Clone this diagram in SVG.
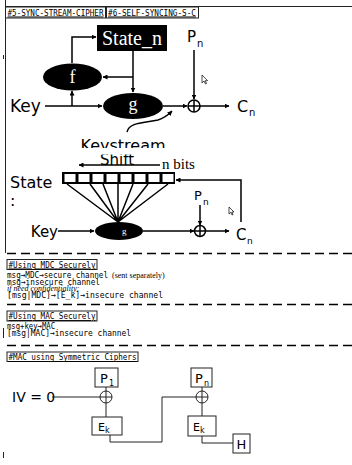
<svg xmlns="http://www.w3.org/2000/svg" width="352" height="465" viewBox="0 0 352 465">
<defs>
<marker id="ah" viewBox="0 0 10 10" refX="9" refY="5" markerWidth="5" markerHeight="5" orient="auto" markerUnits="userSpaceOnUse"><path d="M0,0 L10,5 L0,10 Z" fill="#000"/></marker>
<clipPath id="ksclip"><rect x="0" y="130" width="352" height="18"/></clipPath>
<clipPath id="shclip"><rect x="0" y="154.5" width="352" height="12"/></clipPath>
<style>
.ln{stroke:#000;stroke-width:1.5;fill:none}
.la{stroke:#000;stroke-width:1.5;fill:none;marker-end:url(#ah)}
.thin{stroke:#222;stroke-width:1;fill:none}
.box{fill:#fff;stroke:#222;stroke-width:1}
.dash{stroke:#000;stroke-width:1.5;stroke-dasharray:9 5;fill:none}
.sans{font-family:"DejaVu Sans",sans-serif;fill:#000}
.serif{font-family:"Liberation Serif",serif}
.mono{font-family:"DejaVu Sans Mono",monospace;font-size:9px;fill:#000}
.ul{text-decoration:underline}
.small{font-family:"Liberation Serif",serif;font-size:8px;fill:#000}
.blk{fill:#000}
</style>
</defs>
<rect width="352" height="465" fill="#fff"/>
<path class="thin" d="M5,6.5 H352 M5.5,0 V253"/>
<path class="thin" d="M3.5,55 V59 M3.5,328 V338 M3.5,452 V458"/>
<g id="tab5"><rect class="box" x="5.5" y="7" width="100" height="11"/><text class="mono ul" x="7.5" y="15.5" textLength="96" lengthAdjust="spacingAndGlyphs">#5-SYNC-STREAM-CIPHER</text></g>
<g id="tab6"><rect class="box" x="106.5" y="7" width="92" height="11"/><text class="mono ul" x="108" y="15.5" textLength="88" lengthAdjust="spacingAndGlyphs">#6-SELF-SYNCING-S-C</text></g>

<g id="state_n"><rect class="blk" x="97" y="25" width="70" height="26"/><text class="serif" x="132" y="44.5" font-size="20" fill="#fff" text-anchor="middle">State_n</text></g>
<g id="f"><ellipse class="blk" cx="72.5" cy="77" rx="29.5" ry="13.5"/><text class="serif" x="72.5" y="83" font-size="18" fill="#fff" text-anchor="middle">f</text></g>
<g id="g"><ellipse class="blk" cx="133" cy="106" rx="30" ry="13"/><text class="serif" x="133" y="110" font-size="18" fill="#fff" text-anchor="middle">g</text></g>
<g id="key1"><text class="sans" x="10" y="112" font-size="17">Key</text></g>
<g id="xor1"><circle class="ln" cx="194" cy="106" r="6"/><path class="ln" d="M188,106 H200 M194,100 V112"/></g>
<g id="pn1"><text class="sans" x="187" y="42" font-size="15">P</text><text class="sans" x="197" y="47" font-size="10">n</text></g>
<g id="cn1"><text class="sans" x="237" y="112" font-size="16">C</text><text class="sans" x="249" y="116" font-size="10">n</text></g>
<g id="keystream"><text class="sans" x="123" y="151" font-size="16" text-anchor="middle" clip-path="url(#ksclip)">Keystream</text></g>

<g id="state2"><text class="sans" x="10" y="188" font-size="16">State</text><text class="sans" x="10" y="206" font-size="16">:</text></g>
<g id="register"><rect class="blk" x="62" y="172" width="113" height="12"/>
<rect x="64.5" y="174" width="11" height="8" fill="#fff"/><rect x="78.5" y="174" width="11" height="8" fill="#fff"/><rect x="92.5" y="174" width="11" height="8" fill="#fff"/><rect x="106.5" y="174" width="11" height="8" fill="#fff"/><rect x="120.5" y="174" width="11" height="8" fill="#fff"/><rect x="134.5" y="174" width="11" height="8" fill="#fff"/><rect x="148.5" y="174" width="11" height="8" fill="#fff"/><rect x="162.5" y="174" width="11" height="8" fill="#fff"/></g>
<g id="shift"><text class="sans" x="117" y="165" font-size="15" text-anchor="middle" clip-path="url(#shclip)">Shift</text><text class="serif" x="162" y="169" font-size="15">n bits</text></g>
<g id="g2"><ellipse class="blk" cx="119" cy="231" rx="24" ry="9"/><text class="sans" x="106" y="235" font-size="11" font-weight="bold" fill="#fff">a</text><text class="serif" x="122" y="234" font-size="9" fill="#fff">g</text></g>
<g id="key2"><text class="sans" x="58" y="237" font-size="15" text-anchor="end">Key</text></g>
<g id="xor2"><circle class="ln" cx="200" cy="231" r="5.5"/><path class="ln" d="M194.5,231 H205.5 M200,225.5 V236.5"/></g>
<g id="pn2"><text class="sans" x="194" y="200" font-size="13">P</text><text class="sans" x="203" y="205" font-size="9">n</text></g>
<g id="cn2"><text class="sans" x="236" y="240" font-size="15">C</text><text class="sans" x="247" y="244" font-size="9">n</text></g>

<g id="cursors" fill="#fff" stroke="#000" stroke-width="0.7">
<path d="M202,75 V83 L204,81 L205.5,84 L206.5,83.5 L205.2,80.7 L207.6,80.7 Z"/>
<path d="M229,207 V214 L230.8,212.3 L232,215 L233,214.5 L231.8,212 L234,212 Z"/>
</g>

<g id="connectors">
<path class="la" d="M72,63 V37 H96"/>
<path class="la" d="M133,51 V92"/>
<path class="la" d="M133,77 H103"/>
<path class="la" d="M45,106 H102"/>
<path class="la" d="M72,106 V91"/>
<path class="la" d="M163,106 H187"/>
<path class="la" d="M194,50 V99"/>
<path class="la" d="M200,106 H229"/>
<path class="la" d="M127,132 C129,122 145,123 158,120 C165,118 168,115 172,111"/>
<path class="la" d="M160,165 H79"/>
<path class="la" d="M241,222 V180 H176"/>
<path class="ln" d="M67,184 L118,222 M90,184 L118,222 M103,184 L118,222 M118,184 V222 M133,184 L118,222 M148,184 L118,222 M168,184 L118,222"/>
<path class="la" d="M58,231 H94"/>
<path class="la" d="M143,231 H194"/>
<path class="la" d="M200,205 V225"/>
<path class="la" d="M205.5,231 H229"/>
</g>

<path class="dash" d="M7,253.5 H352 M7,304.5 H352 M7,345.5 H352"/>

<g id="mdc">
<rect class="box" x="7" y="259.5" width="90" height="10"/>
<text class="mono ul" x="8.5" y="267.5" textLength="87" lengthAdjust="spacingAndGlyphs">#Using MDC Securely</text>
<text class="mono" x="7" y="278" textLength="101" lengthAdjust="spacingAndGlyphs">msg→MDC→secure channel</text>
<text class="small" x="112" y="278">(sent separately)</text>
<text class="mono" x="7" y="285" textLength="93" lengthAdjust="spacingAndGlyphs">msg→insecure channel</text>
<text class="small" x="7" y="290.5" font-style="italic">if need confidentiality:</text>
<text class="mono" x="7" y="297.5" textLength="156" lengthAdjust="spacingAndGlyphs">[msg|MDC]→[E_k]→insecure channel</text>
</g>
<g id="mac">
<rect class="box" x="7" y="311" width="90" height="10"/>
<text class="mono ul" x="8.5" y="319" textLength="87" lengthAdjust="spacingAndGlyphs">#Using MAC Securely</text>
<text class="mono" x="7" y="329" textLength="48" lengthAdjust="spacingAndGlyphs">msg+key→MAC</text>
<text class="mono" x="7" y="336" textLength="124" lengthAdjust="spacingAndGlyphs">[msg|MAC]→insecure channel</text>
</g>
<g id="sym-title">
<rect class="box" x="7" y="352" width="131" height="9.5"/>
<text class="mono ul" x="8.5" y="360" textLength="128" lengthAdjust="spacingAndGlyphs">#MAC using Symmetric Ciphers</text>
</g>

<g id="iv"><text class="sans" x="12" y="402" font-size="14">IV = 0</text></g>
<g id="p1"><rect class="box" x="95" y="368" width="23" height="19"/><text class="sans" x="100" y="383" font-size="13">P</text><text class="sans" x="109" y="386" font-size="8">1</text></g>
<g id="xor3"><circle class="thin" cx="106" cy="397" r="6"/><path class="thin" d="M100,397 H112 M106,391 V403"/></g>
<g id="ek1"><rect class="box" x="92" y="417" width="30" height="18"/><text class="sans" x="98" y="431" font-size="11">E</text><text class="sans" x="105" y="433" font-size="8">k</text></g>
<g id="pn3"><rect class="box" x="191" y="368" width="21" height="19"/><text class="sans" x="195" y="383" font-size="13">P</text><text class="sans" x="204" y="386" font-size="8">n</text></g>
<g id="xor4"><circle class="thin" cx="202" cy="397" r="6"/><path class="thin" d="M196,397 H208 M202,391 V403"/></g>
<g id="ek2"><rect class="box" x="188" y="416" width="28" height="20"/><text class="sans" x="193" y="431" font-size="11">E</text><text class="sans" x="200" y="433" font-size="8">k</text></g>
<g id="h"><rect class="box" x="233" y="434" width="17" height="19"/><text class="sans" x="241.5" y="449" font-size="13" text-anchor="middle">H</text></g>
<g id="mac-connectors">
<path class="thin" d="M52,397 H100"/>
<path class="thin" d="M106,387 V391 M106,403 V417"/>
<path class="thin" d="M110,435 V442 H162 V397 H196"/>
<path class="thin" d="M202,387 V391 M202,403 V416"/>
<path class="thin" d="M202,436 V443 H233"/>
</g>
</svg>
